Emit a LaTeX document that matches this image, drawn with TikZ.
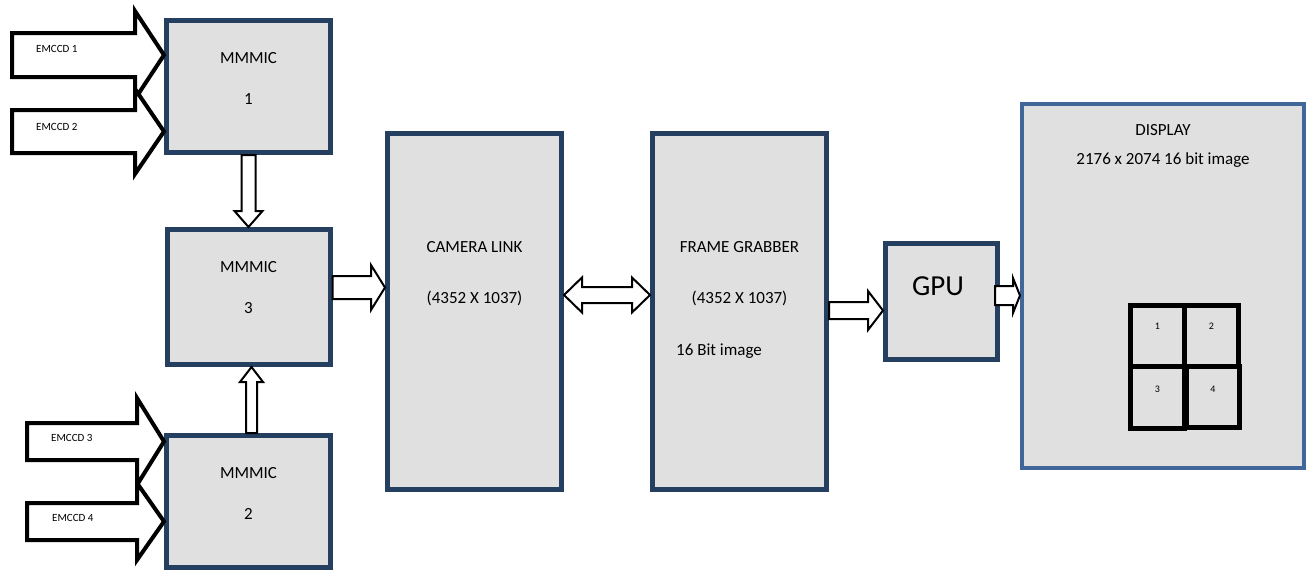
\documentclass[tikz,border=0pt]{standalone}
\usepackage{fontspec}
\setmainfont{Carlito}
\usetikzlibrary{positioning,calc}

\definecolor{boxgray}{HTML}{E0E0E0}
\definecolor{boxnavy}{HTML}{243F60}
\definecolor{dispblue}{HTML}{41679A}

\tikzset{
  unit box/.style={rectangle,draw=boxnavy,fill=boxgray,line width=5pt,inner sep=0pt},
  grid cell/.style={rectangle,draw=black,line width=5pt,inner sep=0pt},
  box text/.style={inner sep=0pt,anchor=base,font=\fontsize{17}{20}\selectfont},
  small text/.style={inner sep=0pt,anchor=base west,font=\fontsize{11}{13}\selectfont},
  block arrow/.style={draw=black,fill=white,line width=2pt,line join=miter},
  input arrow/.style={block arrow,line width=4pt},
}

% block arrow #2 -> #3, shaft half width #4, head half width #5, head length #6
\newcommand{\blockarrow}[6][]{%
  \coordinate (ba-h) at ($(#3)!#6!(#2)$);
  \draw[block arrow,#1] ($(#2)!#4!90:(#3)$) -- ($(ba-h)!#4!90:(#3)$)
    -- ($(ba-h)!#5!90:(#3)$) -- (#3) -- ($(ba-h)!#5!-90:(#3)$)
    -- ($(ba-h)!#4!-90:(#3)$) -- ($(#2)!#4!-90:(#3)$) -- cycle;}

% same, with a head at both ends
\newcommand{\dblblockarrow}[5]{%
  \coordinate (da-a) at ($(#1)!#5!(#2)$);
  \coordinate (da-b) at ($(#2)!#5!(#1)$);
  \draw[block arrow] (#1) -- ($(da-a)!#4!90:(#2)$) -- ($(da-a)!#3!90:(#2)$)
    -- ($(da-b)!#3!90:(#2)$) -- ($(da-b)!#4!90:(#2)$) -- (#2)
    -- ($(da-b)!#4!-90:(#2)$) -- ($(da-b)!#3!-90:(#2)$)
    -- ($(da-a)!#3!-90:(#2)$) -- ($(da-a)!#4!-90:(#2)$) -- cycle;}

\begin{document}
\begin{tikzpicture}[x=1pt,y=-1pt]
  \useasboundingbox (0,0) rectangle (1312,574);

  % boxes
  \node[unit box,minimum width=164pt,minimum height=132pt] (m1) at (248.5,86.5) {};
  \node[unit box,minimum width=163pt,minimum height=135pt,below=72pt of m1] (m3) {};
  \node[unit box,minimum width=164pt,minimum height=132pt,below=66pt of m3] (m2) {};
  \node[unit box,minimum width=174pt,minimum height=356pt] (cl) at (474.5,311.5) {};
  \node[unit box,minimum width=174pt,minimum height=356pt,right=86pt of cl] (fg) {};
  \node[unit box,minimum width=112pt,minimum height=116pt] (gpu) at (941.5,301.5) {};
  \node[unit box,draw=dispblue,line width=4pt,minimum width=282pt,minimum height=364pt] (disp) at (1163,286) {};

  % texts
  \foreach \b/\n in {m1/1,m3/3,m2/2} {
    \node[box text] at ($(\b.north)+(0,45)$) {MMMIC};
    \node[box text] at ($(\b.north)+(0,86)$) {\n};
  }
  \node[box text] (cl1) at ($(cl.north)+(0,121)$) {CAMERA LINK};
  \node[box text] (cl2) at ($(cl.north)+(0,172)$) {(4352 X 1037)};
  \node[box text] (fg1) at ($(fg.north)+(0,121)$) {FRAME GRABBER};
  \node[box text] (fg2) at ($(fg.north)+(0,172)$) {(4352 X 1037)};
  \node[box text,anchor=base west] (fg3) at ($(fg.north west)+(26,224)$) {16 Bit image};
  \node[box text,font=\fontsize{29}{34}\selectfont] (gpu1) at ($(gpu.north)+(-3.5,54)$) {GPU};
  \node[box text] (d1) at ($(disp.north)+(0,33)$) {DISPLAY};
  \node[box text] (d2) at ($(disp.north)+(0,62)$) {2176 x 2074 16 bit image};

  % quadrants
  \node[grid cell,minimum width=54pt,minimum height=61pt] (c1) at (1157.5,336) {};
  \node[grid cell,minimum width=54pt,minimum height=61pt] (c2) at (1211.5,336) {};
  \node[grid cell,minimum width=54pt,minimum height=62pt] (c3) at (1157.5,397.5) {};
  \node[grid cell,minimum width=53pt,minimum height=61pt] (c4) at (1213,397) {};
  \foreach \c/\n/\d in {c1/1/26.5,c2/2/26.5,c3/3/28,c4/4/28}
    \node[inner sep=0pt,anchor=base,font=\fontsize{10}{12}\selectfont] at ($(\c.north)+(0,\d)$) {\n};

  % inputs
  \coordinate (e1) at (12,55);
  \coordinate (e2) at (12,131.5);
  \coordinate (e3) at (27,441.5);
  \coordinate (e4) at (27,521.5);
  \coordinate (t1) at (m1.west |- e1);
  \coordinate (t2) at (m1.west |- e2);
  \coordinate (t3) at (m2.west |- e3);
  \coordinate (t4) at (m2.west |- e4);
  \blockarrow[input arrow]{e1}{t1}{22pt}{44pt}{29pt}
  \blockarrow[input arrow]{e2}{t2}{21.5pt}{42.5pt}{29pt}
  \blockarrow[input arrow]{e3}{t3}{18.5pt}{43.5pt}{27pt}
  \blockarrow[input arrow]{e4}{t4}{18.5pt}{38.5pt}{27pt}
  \node[small text] (l1) at ($(e1)+(24,-3)$) {EMCCD 1};
  \node[small text] (l2) at ($(e2)+(24,-1.5)$) {EMCCD 2};
  \node[small text] (l3) at ($(e3)+(24,-0.5)$) {EMCCD 3};
  \node[small text] (l4) at ($(e4)+(25,0)$) {EMCCD 4};

  % links
  \blockarrow{m1.south}{m3.north}{7pt}{14pt}{16pt}
  \coordinate (a2) at ($(m2.north)+(3,0)$);
  \coordinate (b2) at (a2 |- m3.south);
  \blockarrow{a2}{b2}{5.5pt}{11.5pt}{15pt}
  \coordinate (a3) at ($(m3.east)+(0,-9.5)$);
  \coordinate (b3) at (cl.west |- a3);
  \blockarrow{a3}{b3}{11.5pt}{22.5pt}{14pt}
  \coordinate (a4) at ($(cl.east)+(0,-16.5)$);
  \coordinate (b4) at (fg.west |- a4);
  \dblblockarrow{a4}{b4}{8pt}{17.5pt}{18pt}
  \coordinate (a5) at ($(fg.east)+(0,-1)$);
  \coordinate (b5) at (gpu.west |- a5);
  \blockarrow{a5}{b5}{8.5pt}{19.5pt}{15pt}
  \coordinate (a6) at ($(gpu.east)+(-5,-6)$);
  \coordinate (b6) at (disp.west |- a6);
  \blockarrow{a6}{b6}{9.5pt}{17.5pt}{7pt}
\end{tikzpicture}
\end{document}
